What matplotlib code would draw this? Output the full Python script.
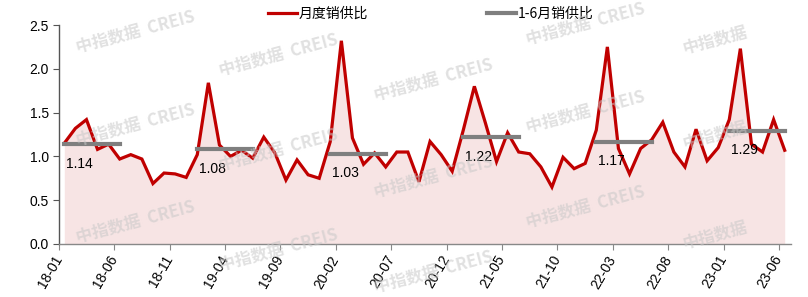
import matplotlib
matplotlib.use("Agg")
import matplotlib.pyplot as plt
import numpy as np

plt.rcParams['font.family'] = ['Liberation Sans', 'Noto Sans CJK SC', 'DejaVu Sans']

months = [f"{y:02d}-{m:02d}" for y in range(18, 24) for m in range(1, 13)][:66]
ratio = [1.15, 1.32, 1.42, 1.08, 1.14, 0.97, 1.02, 0.97, 0.69, 0.81, 0.80, 0.76,
         1.02, 1.84, 1.13, 1.00, 1.07, 0.98, 1.22, 1.04, 0.73, 0.96, 0.79, 0.75,
         1.17, 2.32, 1.21, 0.91, 1.04, 0.88, 1.05, 1.05, 0.71, 1.17, 1.02, 0.83,
         1.30, 1.80, 1.38, 0.94, 1.27, 1.05, 1.03, 0.88, 0.65, 0.99, 0.86, 0.92,
         1.30, 2.25, 1.09, 0.80, 1.09, 1.19, 1.39, 1.05, 0.88, 1.31, 0.95, 1.10,
         1.42, 2.23, 1.14, 1.05, 1.42, 1.07]
h1_start = ["18-01", "19-01", "20-01", "21-01", "22-01", "23-01"]
h1_end = ["18-06", "19-06", "20-06", "21-06", "22-06", "23-06"]
h1_avg = [1.14, 1.08, 1.03, 1.22, 1.17, 1.29]
tick_labels = months[::5]

red = '#C00000'
gray = '#7F7F7F'

fig = plt.figure(figsize=(8.08, 2.97), dpi=100)
ax = fig.add_axes([0.0727, 0.1785, 0.906, 0.7373])

x = np.arange(len(months))
ax.fill_between(x, 0, ratio, color='#F7E4E4', lw=0, zorder=1)
ln1, = ax.plot(x, ratio, color=red, lw=2.3, zorder=4, label='月度销供比', solid_joinstyle='miter')

ln2 = None
for s, e, v in zip(h1_start, h1_end, h1_avg):
    i0, i1 = months.index(s), months.index(e)
    ln2, = ax.plot([i0, i1], [v, v], color=gray, lw=3, zorder=5, label='1-6月销供比')
    ax.annotate(f"{v:.2f}", xy=(i0, v), xytext=(1, -9), textcoords='offset points',
                ha='left', va='top', fontsize=10, color='#000000', zorder=6)

# watermarks
wm_full = [(135, 32), (135, 125), (135, 222), (278, 55), (278, 150), (278, 250),
           (433, 80), (433, 177), (433, 272), (585, 24), (585, 112), (585, 207)]
wm_short = [(715, 40), (715, 135), (715, 235)]
W, H = 808, 297
for px, py in wm_full:
    fig.text(px / W, 1 - py / H, "中指数据  CREIS", fontsize=12, fontweight='bold',
             color='#C8C8C8', alpha=0.55, rotation=15, ha='center', va='center',
             family=['Noto Sans CJK SC', 'DejaVu Sans'], zorder=10)
for px, py in wm_short:
    fig.text(px / W, 1 - py / H, "中指数据", fontsize=12, fontweight='bold',
             color='#C8C8C8', alpha=0.55, rotation=15, ha='center', va='center',
             family=['Noto Sans CJK SC', 'DejaVu Sans'], zorder=10)

ax.set_xlim(-0.5, 65.55)
ax.set_ylim(0, 2.5)
ax.set_yticks([0, 0.5, 1.0, 1.5, 2.0, 2.5])
ax.set_yticklabels([f"{v:.1f}" for v in [0, 0.5, 1.0, 1.5, 2.0, 2.5]], fontsize=10)
tick_pos = [months.index(t) - 0.5 for t in tick_labels]
ax.set_xticks(tick_pos)
ax.set_xticklabels(tick_labels, rotation=60, ha='right', va='center',
                   rotation_mode='anchor', fontsize=10)
ax.tick_params(axis='x', length=4, color='#888888', pad=5)
ax.tick_params(axis='y', length=4, color='#555555', pad=3)
for side in ['top', 'right']:
    ax.spines[side].set_visible(False)
ax.spines['left'].set_color('#555555')
ax.spines['bottom'].set_color('#888888')
ax.spines['left'].set_linewidth(1)
ax.spines['bottom'].set_linewidth(1)

leg = fig.legend([ln1, ln2], ['月度销供比', '1-6月销供比'], loc='center',
                 bbox_to_anchor=(0.533, 0.955), ncol=2, frameon=False,
                 handlelength=2.1, columnspacing=8.55, handletextpad=0.1,
                 prop={'family': ['Noto Sans CJK SC', 'DejaVu Sans'], 'size': 10})

fig.savefig('out.png', dpi=100)
